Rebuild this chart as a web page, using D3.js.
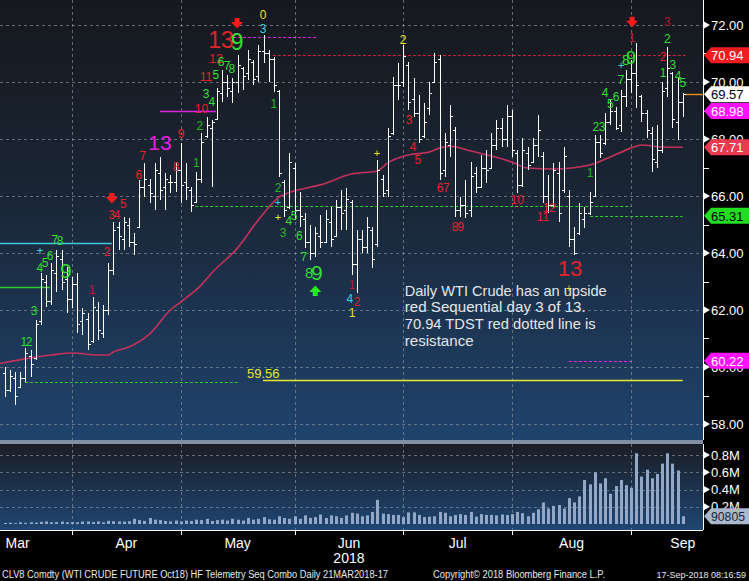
<!DOCTYPE html>
<html><head><meta charset="utf-8">
<script src="https://cdn.jsdelivr.net/npm/d3@7"></script>
<style>body{margin:0;background:#000;overflow:hidden}svg{display:block}</style>
</head><body><svg id="c" width="749" height="581"></svg>
<script>
// ---------- DATA ----------
const months = ["Mar","Apr","May","Jun","Jul","Aug","Sep"];
const monthStartIdx = [-8, 13, 34, 56, 77, 98, 121, 141];
const priceTicks = [58,60,62,64,66,68,70,72];
const priceMinorTicks = [59,61,63,65,67,69,71];
const volTicks = [0.2,0.4,0.6,0.8];
const volTickLabels = ["0.2M","0.4M","0.6M","0.8M"];

const opens = [59.8,59.2,59.6,59.3,59.6,60.4,60.3,61.6,63.0,62.3,63.3,63.8,63.1,62.4,62.9,61.6,61.7,60.9,62.0,61.2,
62.0,63.4,64.9,64.5,65.0,64.4,64.9,66.3,66.4,66.0,66.8,66.3,66.5,66.5,66.9,66.5,66.2,65.8,66.6,68.1,
68.4,68.7,69.6,70.0,69.7,70.0,70.5,70.3,70.7,70.2,71.1,71.0,70.8,69.7,66.5,65.6,67.0,65.5,65.2,64.4,
64.0,64.6,64.4,65.1,64.6,65.6,65.5,65.8,63.6,64.5,64.2,64.8,64.3,66.6,66.2,68.2,69.9,70.0,70.6,69.4,
68.9,68.1,69.1,70.0,70.8,66.9,67.8,68.3,65.5,65.7,65.5,66.8,66.3,67.0,67.0,67.8,68.4,68.0,68.8,67.5,
66.4,67.5,67.2,67.8,67.4,66.0,65.7,66.8,66.2,66.0,64.5,64.7,65.2,65.4,66.0,67.9,67.85,68.6,69.0,68.5,
69.5,70.1,70.3,69.5,68.9,68.2,67.2,67.6,69.8,70.3,68.6,69.3];
const highs = [60.00,59.89,59.82,59.82,60.67,60.60,61.65,63.30,63.23,63.65,64.11,64.11,63.51,63.16,63.30,62.07,61.89,62.46,62.28,62.18,
63.65,65.09,65.09,65.26,65.23,64.70,66.56,67.16,66.60,67.16,67.37,66.81,66.74,67.16,67.86,67.16,66.32,66.84,68.21,68.77,
68.67,69.79,70.42,70.25,70.14,70.95,70.53,71.12,70.77,71.30,71.65,71.12,70.88,69.72,66.56,67.51,67.16,66.14,65.40,64.98,
64.91,65.33,65.51,65.61,65.86,66.21,66.28,65.86,64.81,64.81,65.26,64.91,67.26,66.74,68.39,70.18,70.67,71.30,70.70,70.14,
69.54,69.26,70.00,71.02,70.95,68.21,69.19,68.42,65.96,66.56,67.19,67.02,67.44,67.61,68.21,68.67,68.74,69.19,69.02,67.61,
68.04,67.72,68.04,68.84,67.54,66.74,67.16,67.19,67.72,66.21,64.91,65.75,65.61,66.14,68.14,68.14,68.91,69.37,69.12,69.72,
70.42,70.77,71.37,69.54,69.02,68.42,68.49,70.00,71.23,70.35,70.18,69.61];
const lows = [58.95,59.12,58.67,59.26,59.47,59.65,60.25,61.47,62.11,62.18,62.63,62.70,61.89,62.07,61.19,61.12,60.60,60.84,60.95,61.02,
61.82,63.23,64.11,64.11,64.21,63.93,64.88,65.96,65.75,65.51,65.86,65.51,66.11,66.14,65.75,65.86,65.44,65.75,66.46,68.04,
66.32,68.67,69.30,69.47,69.26,69.61,69.72,70.07,69.89,70.00,70.67,70.00,69.65,66.67,65.26,65.55,65.16,64.91,64.18,63.75,
63.86,64.18,64.35,64.21,64.55,64.81,64.81,63.23,62.60,64.00,64.00,63.47,64.21,65.96,65.96,68.14,69.37,69.82,69.02,68.77,
67.86,68.05,68.85,69.96,66.56,66.67,67.37,65.26,65.26,65.23,65.26,66.11,66.28,66.46,66.98,67.61,67.72,67.72,67.37,66.11,
66.32,66.91,67.16,67.37,65.75,65.40,65.58,65.09,66.11,64.21,63.93,64.63,64.88,65.33,65.96,67.33,67.79,68.49,68.32,68.25,
69.12,69.61,69.09,68.60,68.04,66.84,66.98,67.51,69.47,68.39,67.96,68.77];
const closes = [59.2,59.7,59.0,59.6,60.5,60.1,61.5,63.1,62.3,63.4,63.9,63.0,62.4,62.9,61.5,61.9,60.8,62.1,61.3,62.0,
63.4,64.8,64.6,65.1,64.4,64.3,66.3,66.6,66.1,66.9,66.2,66.6,66.5,66.9,66.4,66.3,65.7,66.6,67.9,68.5,
68.6,69.7,70.0,69.8,70.0,70.6,70.2,70.8,70.1,71.1,71.0,70.8,69.9,66.8,65.5,67.2,65.5,65.3,64.4,64.0,
64.7,64.4,65.2,64.5,65.6,65.4,65.9,63.6,64.5,64.2,64.9,63.8,66.9,66.1,68.1,69.9,69.9,70.9,69.3,68.9,
68.0,68.6,69.6,70.7,66.8,67.9,68.8,65.5,65.7,65.4,66.7,66.3,67.0,66.9,67.8,68.4,68.0,68.8,67.6,66.4,
67.6,67.1,67.8,68.3,66.0,65.7,66.9,65.4,67.4,64.5,64.0,65.4,65.4,65.8,67.9,67.5,68.6,69.0,68.4,69.5,
70.1,70.3,69.9,68.9,68.3,67.3,67.6,69.7,70.5,68.7,69.3,69.57];
const volumes = [0.012,0.015,0.010,0.020,0.014,0.020,0.016,0.025,0.030,0.020,0.022,0.028,0.020,
0.022,0.020,0.028,0.030,0.022,0.030,0.020,0.036,0.032,0.030,0.028,0.032,0.060,0.045,0.035,0.070,0.050,0.045,0.035,0.030,0.040,
0.030,0.040,0.035,0.050,0.045,0.060,0.035,0.045,0.050,0.040,0.060,0.050,0.040,0.070,0.050,0.060,0.080,0.055,0.050,0.090,0.070,0.060,
0.090,0.060,0.100,0.070,0.080,0.110,0.070,0.100,0.090,0.070,0.100,0.130,0.120,0.090,0.100,0.140,0.280,0.120,0.115,0.105,0.105,
0.080,0.135,0.135,0.105,0.080,0.085,0.090,0.140,0.130,0.090,0.105,0.115,0.105,0.140,0.085,0.115,0.105,0.105,0.100,0.110,0.105,
0.115,0.140,0.125,0.090,0.130,0.170,0.250,0.180,0.210,0.220,0.180,0.300,0.250,0.320,0.510,0.460,0.600,0.470,0.530,0.350,0.440,0.510,0.450,
0.420,0.820,0.550,0.630,0.530,0.580,0.700,0.820,0.700,0.620,0.0908];
const maIdx = [-1,5,9,13,18,20,21,24,28,32,34,38,40,45,49,53,56,61,67,72,74,78,82,84,86,90,94,98,101,106,113,117,121,123,127,131];
const maVal = [60.12,60.32,60.42,60.49,60.42,60.42,60.53,60.70,61.16,62.00,62.28,62.88,63.30,64.18,65.16,65.96,66.18,66.39,66.77,66.88,67.16,67.44,67.54,67.68,67.75,67.58,67.40,67.19,66.98,66.95,67.09,67.37,67.68,67.79,67.72,67.71];

// level lines: price, start idx, end idx, colour, dash
const levelPrice = [64.35,62.81,59.47,68.98,71.58,70.94,65.65,65.31,59.56,60.22,69.57];
const levelFrom  = [-1,-1,3.9,30,44.1,51.8,36.8,113.1,49.9,109,131.5];
const levelTo    = [20.7,8.75,45,40.8,60.5,131.5,121,131,131,121,134.9];
const levelColor = ["#3cc9d9","#2ecc2e","#2ecc2e","#e020e0","#e020e0","#d0223e","#2ecc2e","#2ecc2e","#e6e632","#e828e8","#e8901c"];
const levelDash  = [null,null,"3,2",null,"3,2","3,2","3,2","3,2",null,"3,2",null];

// right tags
const tagVals = [70.94,69.57,68.98,67.71,65.31,60.22];
const tagBg   = ["#f01c20","#ffffff","#ff10ff","#ea3a50","#22dd22","#ff10ff"];
const tagFg   = ["#ffffff","#000000","#ffffff","#ffffff","#000000","#ffffff"];
const lastVolume = 90805;

// TD sequential labels: bar index, price, text, colour, size
const G="#33dd33", g2="#26b526", R="#e0242c", r2="#b81c3a", M="#e020e0", Y="#e6e632", C="#3fd0e0";
const labels = [
 [3.7,60.88,"1",G,12],[4.7,60.88,"2",G,12],[5.7,61.96,"3",G,12],[6.8,63.47,"4",G,12],[7.8,63.65,"5",G,12],
 [8.75,63.89,"6",G,12],[9.7,64.46,"7",G,12],[10.7,64.42,"8",G,12],[11.8,63.37,"9",G,21],[6.8,64.07,"+",C,12],
 [16.9,62.70,"1",r2,12],[19.8,64.04,"2",R,12],[20.7,65.33,"3",R,12],[21.7,65.33,"4",R,12],[22.9,65.72,"5",R,12],
 [25.9,66.74,"6",R,12],[26.7,67.40,"7",R,12],[30.0,67.86,"13",M,21],[33.1,67.02,"8",R,12],[34.1,68.18,"9",R,12],
 [37.0,67.16,"1",g2,12],[37.7,68.46,"2",g2,12],[38.0,69.05,"10",R,12],[38.9,69.58,"3",G,12],[40.0,69.30,"4",G,12],
 [38.9,70.18,"11",R,12],[40.8,70.25,"5",G,12],[40.8,70.81,"12",R,12],[41.8,70.70,"6",G,12],[42.95,70.56,"7",G,12],
 [43.9,70.46,"8",G,12],[41.8,71.47,"13",R,23],[44.9,71.40,"9",G,23],[49.9,72.35,"0",Y,12],[49.9,71.86,"3",C,12],
 [52.0,69.23,"1",g2,12],[52.8,66.28,"2",g2,12],[52.8,65.79,"+",C,11],[52.8,65.26,"+",Y,11],[53.8,64.70,"3",g2,12],
 [54.9,65.12,"4",G,12],[55.9,65.30,"5",G,12],[56.9,64.60,"6",G,12],[57.8,63.86,"7",G,12],[58.8,63.33,"8",G,15],
 [60.3,63.33,"9",G,21],[71.9,67.51,"+",Y,11],[67.1,62.88,"1",r2,12],[66.7,62.39,"4",C,12],[68.1,62.28,"2",R,12],
 [67.1,61.89,"1",Y,12],[76.95,71.47,"2",Y,12],[78.1,68.67,"3",R,12],[78.9,67.72,"4",R,12],[79.8,67.26,"5",R,12],
 [84.1,66.28,"6",R,12],[85.3,66.28,"7",R,12],[87.0,64.91,"8",R,12],[88.1,64.91,"9",R,12],[99.0,65.86,"10",R,12],
 [104.0,65.26,"11",R,12],[105.2,65.58,"12",R,12],[109.2,63.47,"13",R,22],[109.0,62.77,"+",Y,10],[113.1,66.81,"1",g2,12],
 [114.2,68.42,"2",G,12],[115.4,68.42,"3",G,12],[116.0,69.61,"4",G,12],[117.0,69.23,"5",G,12],[118.1,69.47,"6",G,12],
 [119.1,70.07,"7",G,12],[119.1,70.60,"+",C,11],[120.0,70.77,"8",G,14],[121.0,70.84,"9",G,18],[121.2,71.54,"1",r2,12],
 [128.0,72.11,"3",r2,12],[128.0,71.51,"2",G,12],[127.2,70.88,"2",R,12],[127.2,70.32,"1",G,12],[129.1,70.60,"3",G,12],
 [130.1,70.21,"4",G,12],[131.0,69.96,"5",G,12]
];
const downArrows = [[20.7,65.93],[44.9,72.07],[121.2,72.11]];
const upArrows = [[60.0,62.67]];

const noteLines = ["Daily WTI Crude has an upside","red Sequential day 3 of 13.","70.94 TDST red dotted line is","resistance"];
const noteAnchor = [76.5, 62.5];
const footer = ["CLV8 Comdty (WTI CRUDE FUTURE  Oct18) HF Telemetry Seq Combo  Daily 21MAR2018-17",
  "Copyright\u00A9 2018 Bloomberg Finance L.P.", "17-Sep-2018 08:16:59"];

// ---------- LAYOUT ----------
const svg = d3.select("#c");
const FONT = "'Liberation Sans', Arial, sans-serif";
const plotR = 703, pTop = 0, pBot = 440, vTop = 444, vBot = 530;
const x = d3.scaleLinear().domain([0,131]).range([4.7,682.8]);
const y = d3.scaleLinear().domain([58,72]).range([424,25]);
const yv = d3.scaleLinear().domain([0,0.8]).range([524,455]);

const defs = svg.append("defs");
function grad(id, stops){
  const g = defs.append("linearGradient").attr("id",id).attr("x1",0).attr("y1",0).attr("x2",0).attr("y2",1);
  stops.forEach(s=>g.append("stop").attr("offset",s[0]).attr("stop-color",s[1]));
}
grad("gp",[["0%","#16181d"],["45%","#1a2636"],["100%","#1f436d"]]);
grad("gv",[["0%","#1a1d25"],["100%","#1f4672"]]);

svg.append("rect").attr("width",749).attr("height",581).attr("fill","#000");
svg.append("rect").attr("x",0).attr("y",pTop).attr("width",plotR).attr("height",pBot-pTop).attr("fill","url(#gp)");
svg.append("rect").attr("x",0).attr("y",pBot).attr("width",plotR).attr("height",4).attr("fill","#7f8ea4");
svg.append("rect").attr("x",0).attr("y",vTop).attr("width",plotR).attr("height",vBot-vTop).attr("fill","url(#gv)");

const grid = svg.append("g").attr("stroke","#8c939e").attr("stroke-opacity",0.65).attr("stroke-dasharray","3,3").attr("stroke-width",1);
priceTicks.forEach(t=>{ const yy=Math.round(y(t))+0.5; grid.append("line").attr("x1",0).attr("x2",plotR).attr("y1",yy).attr("y2",yy); });
volTicks.forEach(t=>{ const yy=Math.round(yv(t))+0.5; grid.append("line").attr("x1",0).attr("x2",plotR).attr("y1",yy).attr("y2",yy); });
monthStartIdx.slice(1,7).forEach(m=>{
  const xx=Math.round(x(m))+0.5;
  grid.append("line").attr("x1",xx).attr("x2",xx).attr("y1",pTop).attr("y2",pBot);
  grid.append("line").attr("x1",xx).attr("x2",xx).attr("y1",vTop).attr("y2",vBot);
});

// level lines
const lv = svg.append("g");
levelPrice.forEach((p,k)=>{
  const yy = Math.round(y(p))+0.5;
  lv.append("line").attr("x1",Math.max(0,x(levelFrom[k]))).attr("x2",Math.min(plotR,x(levelTo[k])))
    .attr("y1",yy).attr("y2",yy).attr("stroke",levelColor[k])
    .attr("stroke-width",levelDash[k]?1:1.4).attr("stroke-dasharray",levelDash[k]);
});

// moving average
svg.append("path").datum(maIdx.map((d,k)=>[d,maVal[k]]))
  .attr("d",d3.line().x(d=>Math.max(0,x(d[0]))).y(d=>y(d[1])).curve(d3.curveMonotoneX))
  .attr("fill","none").attr("stroke","#c2325c").attr("stroke-width",1.6);

// OHLC bars
const bars = svg.append("g").attr("stroke","#ffffff").attr("stroke-width",1).attr("shape-rendering","crispEdges");
highs.forEach((h,i)=>{
  const xx = Math.round(x(i))+0.5;
  bars.append("line").attr("x1",xx).attr("x2",xx).attr("y1",y(h)).attr("y2",y(lows[i]));
  const yo=Math.round(y(opens[i]))+0.5, yc=Math.round(y(closes[i]))+0.5;
  bars.append("line").attr("x1",xx-2.5).attr("x2",xx).attr("y1",yo).attr("y2",yo);
  bars.append("line").attr("x1",xx).attr("x2",xx+2.5).attr("y1",yc).attr("y2",yc);
});

// volume bars
svg.append("g").selectAll("rect").data(volumes).join("rect")
  .attr("x",(d,i)=>Math.round(x(i))-1).attr("width",3)
  .attr("y",d=>yv(d)).attr("height",d=>yv(0)-yv(d)).attr("fill","#93a7c6");

// labels
const lab = svg.append("g").attr("font-family",FONT).attr("text-anchor","middle").attr("dominant-baseline","central");
labels.forEach(l=>{
  lab.append("text").attr("x",x(l[0])).attr("y",y(l[1])).attr("fill",l[3]).attr("font-size",l[4]).text(l[2]);
});
downArrows.forEach(a=>{
  const cx=x(a[0]), cy=y(a[1]);
  svg.append("path").attr("d",`M${cx-2.5},${cy-5}h5v4h3.5l-6,6.5l-6,-6.5h3.5z`).attr("fill","#ff1a1a");
});
upArrows.forEach(a=>{
  const cx=x(a[0]), cy=y(a[1]);
  svg.append("path").attr("d",`M${cx-2.5},${cy+5}h5v-4h3.5l-6,-6.5l-6,6.5h3.5z`).attr("fill","#22ee22");
});

// 59.56 label
svg.append("text").attr("x",x(46.8)).attr("y",y(59.56)-2).attr("font-family",FONT).attr("font-size",13)
  .attr("fill","#e6e632").text("59.56");

// note
const note = svg.append("g").attr("font-family",FONT).attr("font-size",15).attr("fill","#e4e6ea");
const noteLens=[202,181,191,69];
noteLines.forEach((t,k)=>{
  note.append("text").attr("x",x(noteAnchor[0])+4).attr("y",y(noteAnchor[1])+k*16.7)
    .attr("textLength",noteLens[k]).attr("lengthAdjust","spacingAndGlyphs").text(t);
});

// right axis
svg.append("line").attr("x1",plotR+0.5).attr("x2",plotR+0.5).attr("y1",0).attr("y2",pBot).attr("stroke","#fff");
svg.append("line").attr("x1",plotR+0.5).attr("x2",plotR+0.5).attr("y1",vTop).attr("y2",vBot).attr("stroke","#fff");
const ax = svg.append("g").attr("font-family",FONT).attr("font-size",13).attr("fill","#fff");
priceTicks.forEach(t=>{
  const yy=y(t);
  ax.append("path").attr("d",`M${plotR+1},${yy-3.5}l6,3.5l-6,3.5z`).attr("fill","#fff");
  ax.append("text").attr("x",711).attr("y",yy).attr("dominant-baseline","central").text(t.toFixed(2));
});
priceMinorTicks.forEach(t=>{
  const yy=Math.round(y(t))+0.5;
  ax.append("line").attr("x1",plotR).attr("x2",plotR+6).attr("y1",yy).attr("y2",yy).attr("stroke","#fff");
});
volTicks.forEach((t,k)=>{
  const yy=yv(t);
  ax.append("path").attr("d",`M${plotR+1},${yy-3.5}l6,3.5l-6,3.5z`).attr("fill","#fff");
  ax.append("text").attr("x",711).attr("y",yy).attr("dominant-baseline","central").text(volTickLabels[k]);
});
// tags
function tag(yy,bg,fg,txt,len){
  const g=svg.append("g");
  g.append("path").attr("d",`M${plotR+1},${yy}l7,-8h38v16h-38z`).attr("fill",bg);
  const t=g.append("text").attr("x",711).attr("y",yy+0.5).attr("dominant-baseline","central").attr("font-family",FONT)
    .attr("font-size",13).attr("fill",fg).text(txt);
  if(len) t.attr("textLength",len).attr("lengthAdjust","spacingAndGlyphs");
}
tagVals.forEach((v,k)=>tag(y(v),tagBg[k],tagFg[k],v.toFixed(2)));
tag(yv(lastVolume/1e6),"#a9b8cc","#18243a",String(lastVolume),34);

// bottom axis
svg.append("line").attr("x1",0).attr("x2",plotR).attr("y1",vBot+0.5).attr("y2",vBot+0.5).attr("stroke","#fff");
const bx = svg.append("g").attr("font-family",FONT).attr("font-size",14).attr("fill","#fff").attr("text-anchor","middle");
monthStartIdx.slice(1,7).forEach(m=>{
  const xx=Math.round(x(m))+0.5;
  svg.append("line").attr("x1",xx).attr("x2",xx).attr("y1",vBot).attr("y2",vBot+5).attr("stroke","#fff");
});
months.forEach((m,k)=>{
  const cx=(x(monthStartIdx[k])+x(monthStartIdx[k+1]))/2;
  bx.append("text").attr("x",cx).attr("y",548).text(m);
  if(m==="Jun") bx.append("text").attr("x",cx).attr("y",563).text("2018");
});
// footer
const ft = svg.append("g").attr("font-family",FONT).attr("fill","#e8e8e8");
ft.append("text").attr("x",2).attr("y",578).attr("font-size",10).attr("textLength",386).attr("lengthAdjust","spacingAndGlyphs").text(footer[0]);
ft.append("text").attr("x",433).attr("y",578).attr("font-size",10).attr("textLength",172).attr("lengthAdjust","spacingAndGlyphs").text(footer[1]);
ft.append("text").attr("x",746).attr("y",578).attr("font-size",9).attr("text-anchor","end").text(footer[2]);
</script></body></html>
